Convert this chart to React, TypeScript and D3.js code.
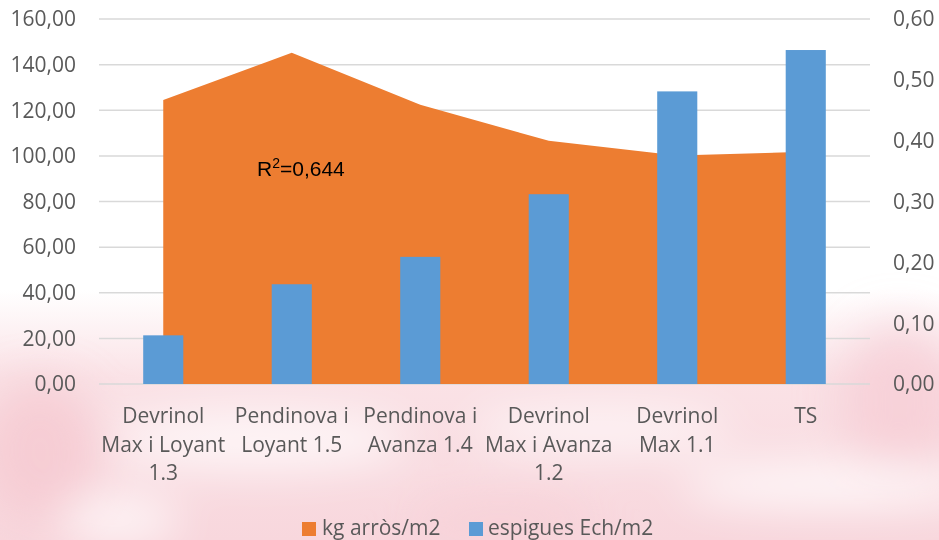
import * as d3 from "d3";

const categories = [
  ["Devrinol", "Max i Loyant", "1.3"],
  ["Pendinova i", "Loyant 1.5"],
  ["Pendinova i", "Avanza 1.4"],
  ["Devrinol", "Max i Avanza", "1.2"],
  ["Devrinol", "Max 1.1"],
  ["TS"],
];
const kgArros = [124.5, 145.2, 122.4, 106.6, 100.2, 101.8];
const espigues = [0.08, 0.164, 0.209, 0.312, 0.481, 0.549];
const leftTicks = [0, 20, 40, 60, 80, 100, 120, 140, 160];
const rightTicks = [0, 0.1, 0.2, 0.3, 0.4, 0.5, 0.6];
const seriesNames = ["kg arròs/m2", "espigues Ech/m2"];
const r2Label = "0,644";

const width = 939;
const height = 540;
const plotLeft = 99;
const plotRight = 870;
const plotTop = 19;
const plotBottom = 384;

const ORANGE = "#ED7D31";
const BLUE = "#5B9BD5";
const GRID = "#d9d9d9";
const TEXT = "#595959";
const FONT = "'Open Sans', sans-serif";

const fmt = (v: number) => v.toFixed(2).replace(".", ",");

export default function App() {
  const idx = categories.map((_, i) => i);
  const x = d3.scaleBand<number>().domain(idx).range([plotLeft, plotRight]);
  const cx = (i: number) => x(i)! + x.bandwidth() / 2;
  const yL = d3.scaleLinear().domain([0, 160]).range([plotBottom, plotTop]);
  const yR = d3.scaleLinear().domain([0, 0.6]).range([plotBottom, plotTop]);
  const barW = x.bandwidth() * 0.312;

  const area = d3
    .area<number>()
    .x((_, i) => cx(i))
    .y0(yL(0))
    .y1((d) => yL(d));

  return (
    <div style={{ position: "fixed", left: 0, top: 0 }}>
      <svg width={width} height={height} style={{ display: "block" }}>
        <defs>
          <filter id="blur" x="-50%" y="-50%" width="200%" height="200%">
            <feGaussianBlur stdDeviation="22" />
          </filter>
          <linearGradient id="pinkFade" x1="0" y1="0" x2="0" y2="1">
            <stop offset="0" stopColor="#f9dbe0" stopOpacity={0} />
            <stop offset="0.35" stopColor="#f9dbe0" stopOpacity={0.8} />
            <stop offset="1" stopColor="#f8d7dd" stopOpacity={1} />
          </linearGradient>
        </defs>
        <rect width={width} height={height} fill="#fff" />
        {/* faded pink watermark in the lower part */}
        <rect x={0} y={290} width={width} height={250} fill="url(#pinkFade)" />
        <g filter="url(#blur)">
          <ellipse cx={40} cy={450} rx={60} ry={70} fill="#f5c6cf" opacity={0.7} />
          <ellipse cx={900} cy={400} rx={60} ry={80} fill="#f5c8d0" opacity={0.6} />
          <ellipse cx={260} cy={440} rx={150} ry={30} fill="#fff" opacity={0.7} />
          <ellipse cx={600} cy={430} rx={130} ry={25} fill="#fff" opacity={0.6} />
          <ellipse cx={830} cy={485} rx={150} ry={22} fill="#fff" opacity={0.8} />
          <ellipse cx={120} cy={520} rx={60} ry={25} fill="#fff" opacity={0.7} />
          <ellipse cx={500} cy={520} rx={90} ry={20} fill="#f6cdd4" opacity={0.6} />
        </g>

        {leftTicks.map((t) => (
          <line
            key={t}
            x1={plotLeft}
            x2={plotRight}
            y1={yL(t)}
            y2={yL(t)}
            stroke={GRID}
            strokeWidth={1.5}
          />
        ))}

        <path d={area(kgArros)!} fill={ORANGE} />

        {espigues.map((v, i) => (
          <rect
            key={i}
            x={cx(i) - barW / 2}
            y={yR(v)}
            width={barW}
            height={yR(0) - yR(v)}
            fill={BLUE}
          />
        ))}

        <g fontFamily={FONT} fontSize={21} fill={TEXT}>
          {leftTicks.map((t) => (
            <text key={t} x={76} y={yL(t)} dy="0.35em" textAnchor="end">
              {fmt(t)}
            </text>
          ))}
          {rightTicks.map((t) => (
            <text key={t} x={893} y={yR(t)} dy="0.35em">
              {fmt(t)}
            </text>
          ))}
          {categories.map((lines, i) => (
            <text key={i} x={cx(i)} textAnchor="middle">
              {lines.map((l, j) => (
                <tspan key={j} x={cx(i)} y={423 + j * 28.5}>
                  {l}
                </tspan>
              ))}
            </text>
          ))}
        </g>

        <text
          x={257}
          y={176}
          fontFamily="'Liberation Sans', Arial, sans-serif"
          fontSize={21}
          fill="#000"
        >
          R
          <tspan fontSize={14} dy={-8}>
            2
          </tspan>
          <tspan dy={8}>={r2Label}</tspan>
        </text>

        <g fontFamily={FONT} fontSize={21} fill={TEXT}>
          <rect x={302} y={522} width={14} height={14} fill={ORANGE} />
          <text x={322} y={535}>
            {seriesNames[0]}
          </text>
          <rect x={469} y={522} width={14} height={14} fill={BLUE} />
          <text x={488} y={535}>
            {seriesNames[1]}
          </text>
        </g>
      </svg>
    </div>
  );
}
